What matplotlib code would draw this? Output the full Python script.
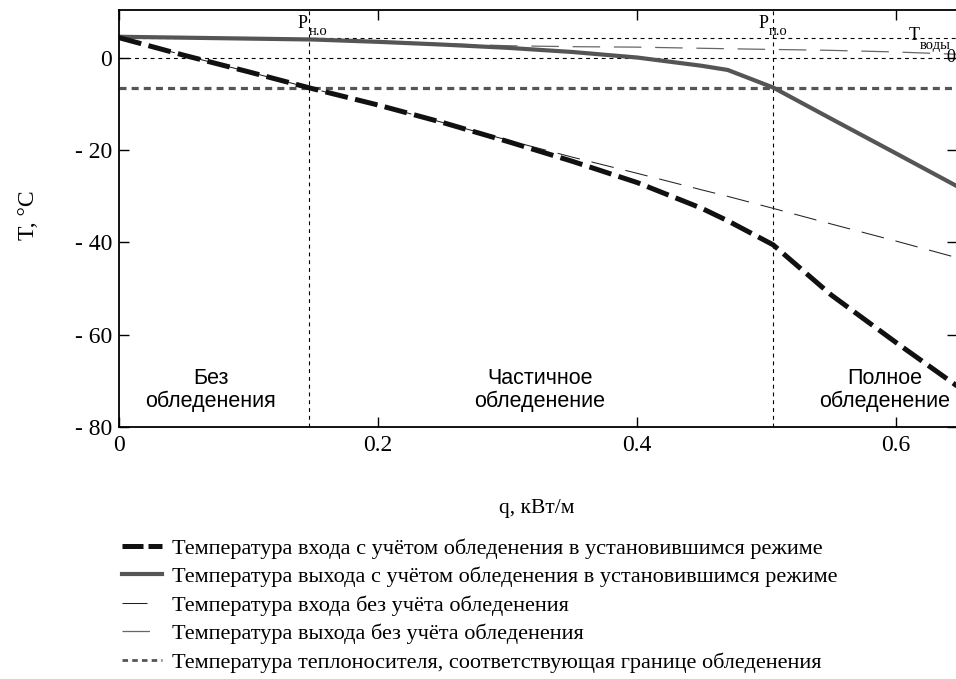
'''Температуры теплоносителя в зависимости от мощности обогрева'''
import matplotlib
matplotlib.use('Agg')
import matplotlib.pyplot as plt
from matplotlib.lines import Line2D

plt.rcParams['font.family'] = ['Liberation Serif', 'DejaVu Serif']

q = [0, 0.05, 0.1, 0.15, 0.2, 0.25, 0.3, 0.35, 0.4, 0.45, 0.47, 0.505, 0.55, 0.6, 0.647]
t_in_ice = [4.4, 0.6, -3.0, -6.7, -10.2, -14.0, -18.1, -22.4, -27.0, -32.6, -35.3,
            -40.5, -51.4, -61.7, -71.1]
t_out_ice = [4.6, 4.4, 4.2, 4.0, 3.5, 2.9, 2.2, 1.3, 0.1, -1.7, -2.6, -6.4, -13.2,
             -20.7, -27.8]
t_in_free = [4.4, 0.6, -3.0, -6.7, -10.2, -14.0, -17.8, -21.5, -25.0, -28.6, -30.0,
             -32.6, -36.0, -39.7, -43.3]
t_out_free = [4.6, 4.4, 4.2, 4.0, 3.6, 3.1, 2.65, 2.45, 2.35, 2.1, 2.0, 1.85, 1.65,
              1.3, 0.8]

t_water = 4.27
t_boundary = -6.43
p_start = 0.147
p_full = 0.505

legend_labels = [
    'Температура входа с учётом обледенения в установившимся режиме',
    'Температура выхода с учётом обледенения в установившимся режиме',
    'Температура входа без учёта обледенения',
    'Температура выхода без учёта обледенения',
    'Температура теплоносителя, соответствующая границе обледенения',
]
zones = ['Без\nобледенения', 'Частичное\nобледенение', 'Полное\nобледенение']
zone_x = [0.071, 0.325, 0.5915]
x_ticks = [0, 0.2, 0.4, 0.6]
x_tick_labels = ['0', '0.2', '0.4', '0.6']
y_ticks = [-80, -60, -40, -20, 0]
y_tick_labels = ['- 80', '- 60', '- 40', '- 20', '0']


def plot_chart():
    '''Рисуем график'''
    fig = plt.figure(figsize=(9.56, 6.79), dpi=100)
    ax = fig.add_axes([119 / 956, 1 - 427 / 679, 838 / 956, 417 / 679])

    # вспомогательные линии
    dot = dict(color='black', lw=0.8, dashes=(3.5, 3.5))
    ax.axhline(0, **dot)
    ax.axhline(t_water, **dot)
    ax.axvline(p_start, **dot)
    ax.axvline(p_full, **dot)

    ax.plot(q, t_in_free, color='#222222', lw=0.75, dashes=(22, 11.5))
    ax.plot(q, t_out_free, color='#666666', lw=0.9, dashes=(22, 11))
    ax.axhline(t_boundary, color='#555555', lw=2.3, dashes=(2.2, 1.6))
    ax.plot(q, t_out_ice, color='#555555', lw=3.0)
    ax.plot(q, t_in_ice, color='#111111', lw=3.6, dashes=(4.6, 1.5))

    ax.set_xlim(0, 0.647)
    ax.set_ylim(-80, 10.4)
    ax.set_xticks(x_ticks)
    ax.set_xticklabels(x_tick_labels)
    ax.set_yticks(y_ticks)
    ax.set_yticklabels(y_tick_labels)
    ax.tick_params(direction='in', length=7, width=1, labelsize=17,
                   top=True, right=True)
    ax.tick_params(axis='x', pad=6)
    ax.tick_params(axis='y', pad=5)
    for spine in ax.spines.values():
        spine.set_linewidth(1.3)

    ax.set_xlabel('q, кВт/м', fontsize=15.5)
    ax.xaxis.set_label_coords(0.499, -0.172)
    ax.set_ylabel('T, °C', fontsize=17)
    ax.yaxis.set_label_coords(-0.095, 0.508)

    for name, xpos in zip(zones, zone_x):
        ax.text(xpos, -72, name, ha='center', va='center', fontsize=15.5,
                family=['Liberation Sans', 'DejaVu Sans'], linespacing=1.15)

    ax.text(0.1375, 6.5, 'P', fontsize=13, ha='left', va='baseline')
    ax.text(0.1465, 5.0, 'н.о', fontsize=10.5, ha='left', va='baseline')
    ax.text(0.4934, 6.5, 'P', fontsize=13, ha='left', va='baseline')
    ax.text(0.5020, 5.0, 'п.о', fontsize=10.5, ha='left', va='baseline')
    ax.text(0.6095, 3.9, 'T', fontsize=13, ha='left', va='baseline')
    ax.text(0.6185, 1.9, 'воды', fontsize=10.5, ha='left', va='baseline',
            clip_on=False)
    ax.text(0.6385, 0, '0', fontsize=13, ha='left', va='center')

    handles = [
        Line2D([], [], color='#111111', lw=3.6, dashes=(4.2, 1.0)),
        Line2D([], [], color='#555555', lw=3.0),
        Line2D([], [], color='#222222', lw=0.75, dashes=(24, 40)),
        Line2D([], [], color='#666666', lw=0.9, dashes=(22, 40)),
        Line2D([], [], color='#555555', lw=2.0, dashes=(2.0, 1.5)),
    ]
    fig.legend(handles, legend_labels, loc='upper left', frameon=False,
               bbox_to_anchor=(122 / 956, 1 - 538 / 679), fontsize=16,
               handlelength=1.8, handletextpad=0.45, labelspacing=0.36,
               borderpad=0, borderaxespad=0)

    fig.savefig('out.png', dpi=100)


plot_chart()
